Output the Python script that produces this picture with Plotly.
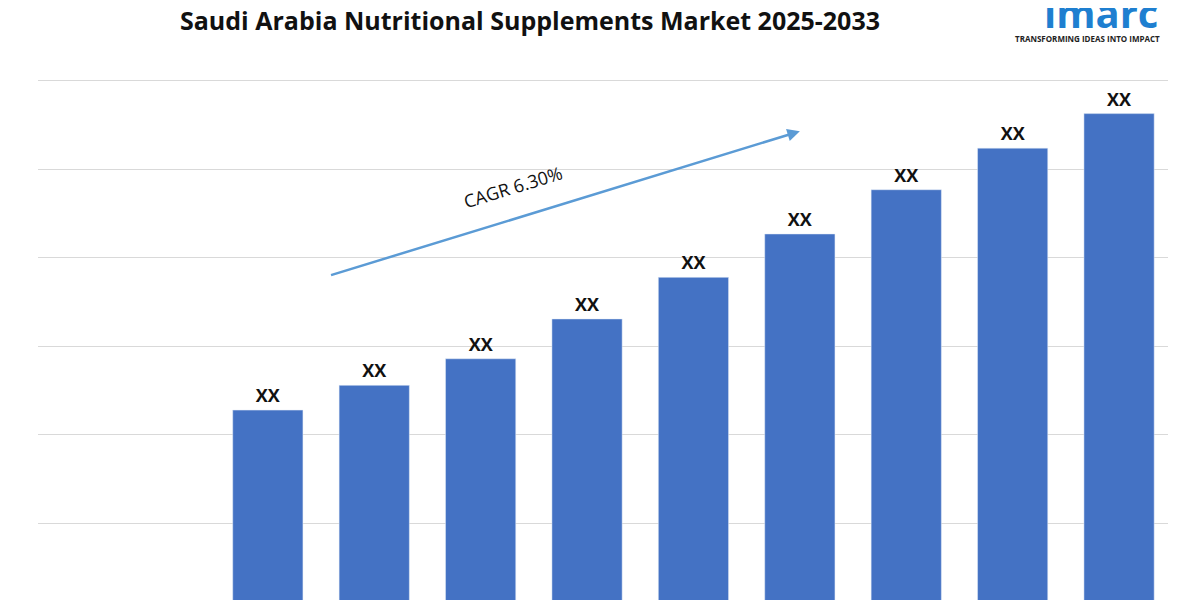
import plotly.graph_objects as go

years = ["2025", "2026", "2027", "2028", "2029", "2030", "2031", "2032", "2033"]
values = [228, 256, 286, 331, 378, 427, 477, 524, 563]
labels = ["<b>XX</b>"] * len(years)

xpos = list(range(len(years)))

fig = go.Figure()
fig.add_trace(go.Bar(
    x=xpos, y=values, width=0.66, marker_color="#4472C4",
    text=labels, textposition="outside", cliponaxis=False,
    textfont=dict(family="Open Sans", size=18, color="#111111"),
))

fig.add_annotation(x=5.0, y=543, ax=0.58, ay=380, xref="x", yref="y", axref="x", ayref="y",
                   showarrow=True, arrowhead=2, arrowsize=1, arrowwidth=2.5,
                   arrowcolor="#5B9BD5", text="")
fig.add_annotation(x=2.3, y=480, xref="x", yref="y", text="CAGR 6.30%", showarrow=False,
                   textangle=-17, font=dict(family="Open Sans", size=18, color="#111111"))

fig.add_annotation(x=0.435, y=1.0, xref="paper", yref="paper", yanchor="middle",
                   yshift=56, text="<b>Saudi Arabia Nutritional Supplements Market 2025-2033</b>",
                   showarrow=False, font=dict(family="Open Sans", size=25, color="#111111"))
fig.add_annotation(x=1.0, y=1.0, xref="paper", yref="paper", xanchor="right", yanchor="middle",
                   yshift=64, xshift=-8, text="<b>imarc</b>", showarrow=False,
                   font=dict(family="Open Sans", size=40, color="#1E7FD0"))
fig.add_annotation(x=1.0, y=1.0, xref="paper", yref="paper", xanchor="right", yanchor="middle",
                   yshift=38, xshift=-6, text="<b>TRANSFORMING IDEAS INTO IMPACT</b>", showarrow=False,
                   font=dict(family="Open Sans", size=8, color="#222222"))

fig.update_layout(
    width=1200, height=600, margin=dict(l=30, r=40, t=68, b=0),
    plot_bgcolor="white", paper_bgcolor="white", showlegend=False,
    xaxis=dict(range=[-2.16, 8.46], showticklabels=False, showgrid=False, zeroline=False),
    yaxis=dict(range=[4.4, 605.5], dtick=100, tick0=0, showticklabels=False,
               gridcolor="#D9D9D9", gridwidth=1, zeroline=False),
)
fig.write_html("out.html")
